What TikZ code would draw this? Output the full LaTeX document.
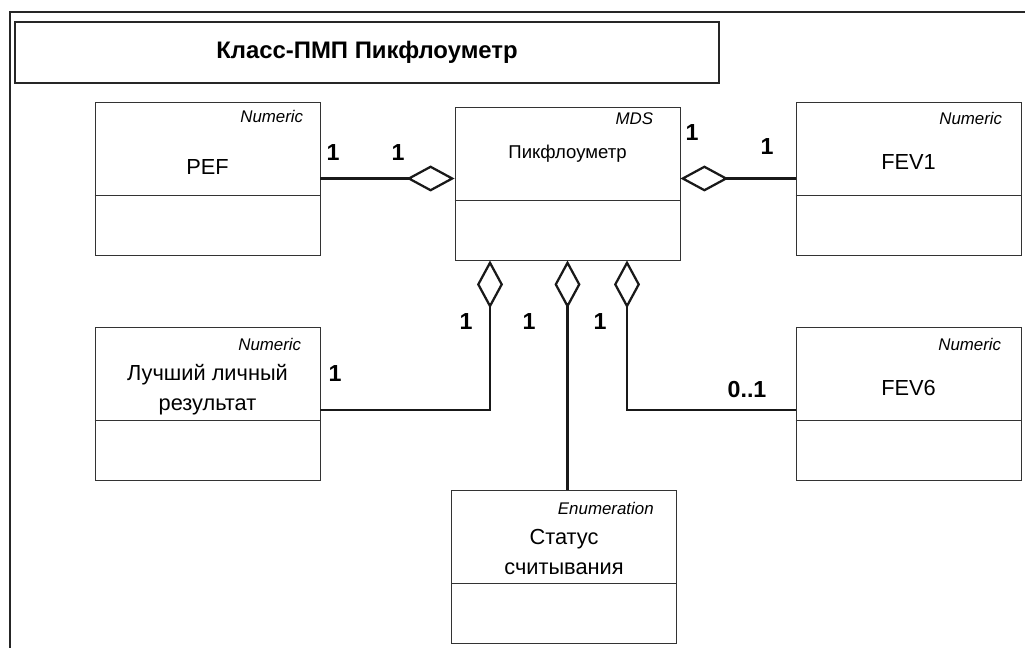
\documentclass[tikz,border=0pt]{standalone}
\usepackage{fontspec}
\setmainfont{Liberation Sans}
\usetikzlibrary{arrows.meta}

\begin{document}
\begin{tikzpicture}
   [
   classbox/.style={rectangle, draw=black!80, fill=white, line width=0.6pt, minimum width=5.625cm, minimum height=3.825cm, inner sep=0pt},
   titlebox/.style={rectangle, draw=black!85, line width=1.8pt, minimum width=17.6cm, minimum height=1.525cm, font=\fontsize{17}{20}\selectfont\bfseries},
   stereo/.style={anchor=east, inner sep=0pt, font=\fontsize{12}{14}\selectfont\itshape},
   classname/.style={align=center, inner sep=0pt, font=\fontsize{15.5}{21}\selectfont},
   mult/.style={inner sep=0pt, font=\fontsize{16.5}{19}\selectfont\bfseries},
   agg/.style={draw=black!90, line width=1.6pt, -{Diamond[open, length=1.2cm, width=0.65cm]}},
   ]
 \useasboundingbox (0,0) rectangle (25.625,-16.2);
 \draw[black!85, line width=0.9pt] (0.25,-16.4) -- (0.25,-0.3) -- (25.8,-0.3);
 \node at (9.175,-1.3125) [titlebox] (title) {Класс-ПМП Пикфлоуметр};
 \node at (5.1875,-4.4625) [classbox] (pef) {};
 \node at (14.1875,-4.5875) [classbox] (mds) {};
 \node at (22.7125,-4.4625) [classbox] (fev1) {};
 \node at (5.1875,-10.0875) [classbox] (best) {};
 \node at (22.7125,-10.0875) [classbox] (fev6) {};
 \node at (14.1,-14.1625) [classbox] (status) {};
 \draw[black!80, line width=0.6pt] ([yshift=1.5cm]pef.south west) -- ([yshift=1.5cm]pef.south east);
 \draw[black!80, line width=0.6pt] ([yshift=1.5cm]mds.south west) -- ([yshift=1.5cm]mds.south east);
 \draw[black!80, line width=0.6pt] ([yshift=1.5cm]fev1.south west) -- ([yshift=1.5cm]fev1.south east);
 \draw[black!80, line width=0.6pt] ([yshift=1.5cm]best.south west) -- ([yshift=1.5cm]best.south east);
 \draw[black!80, line width=0.6pt] ([yshift=1.5cm]fev6.south west) -- ([yshift=1.5cm]fev6.south east);
 \draw[black!80, line width=0.6pt] ([yshift=1.5cm]status.south west) -- ([yshift=1.5cm]status.south east);
 \node at ([xshift=-0.425cm,yshift=-0.375cm]pef.north east) [stereo] (pefst) {Numeric};
 \node at ([xshift=-0.675cm,yshift=-0.3cm]mds.north east) [stereo] (mdsst) {MDS};
 \node at ([xshift=-0.475cm,yshift=-0.425cm]fev1.north east) [stereo] (fev1st) {Numeric};
 \node at ([xshift=-0.475cm,yshift=-0.45cm]best.north east) [stereo] (bestst) {Numeric};
 \node at ([xshift=-0.5cm,yshift=-0.45cm]fev6.north east) [stereo] (fev6st) {Numeric};
 \node at ([xshift=-0.575cm,yshift=-0.475cm]status.north east) [stereo] (statusst) {Enumeration};
 \node at ([yshift=-1.625cm]pef.north) [classname] (pefname) {PEF};
 \node at ([yshift=-1.175cm]mds.north) [classname, font=\fontsize{13.2}{15}\selectfont] (mdsname) {Пикфлоуметр};
 \node at ([yshift=-1.5cm]fev1.north) [classname] (fev1name) {FEV1};
 \node at ([yshift=-1.575cm]best.north) [classname] (bestname) {Лучший личный\\результат};
 \node at ([yshift=-1.525cm]fev6.north) [classname] (fev6name) {FEV6};
 \node at ([yshift=-1.5625cm]status.north) [classname] (statusname) {Статус\\считывания};
 \draw[agg] (pef.east) -- (pef.east -| mds.west);
 \draw[agg] (fev1.west) -- (fev1.west -| mds.east);
 \draw[agg] ([yshift=-0.1625cm]best.east) -| ([xshift=-1.9375cm]mds.south);
 \draw[agg] (status.north -| mds.south) -- (mds.south);
 \draw[agg] ([yshift=-0.1625cm]fev6.west) -| ([xshift=1.4875cm]mds.south);
 \node at (8.325,-3.825) [mult] (m1) {1};
 \node at (9.95,-3.825) [mult] (m2) {1};
 \node at (17.3,-3.325) [mult] (m3) {1};
 \node at (19.175,-3.675) [mult] (m4) {1};
 \node at (11.65,-8.05) [mult] (m5) {1};
 \node at (13.225,-8.05) [mult] (m6) {1};
 \node at (15.0,-8.05) [mult] (m7) {1};
 \node at (8.375,-9.35) [mult] (m8) {1};
 \node at (18.675,-9.75) [mult] (m9) {0..1};
   \end{tikzpicture}
\end{document}
